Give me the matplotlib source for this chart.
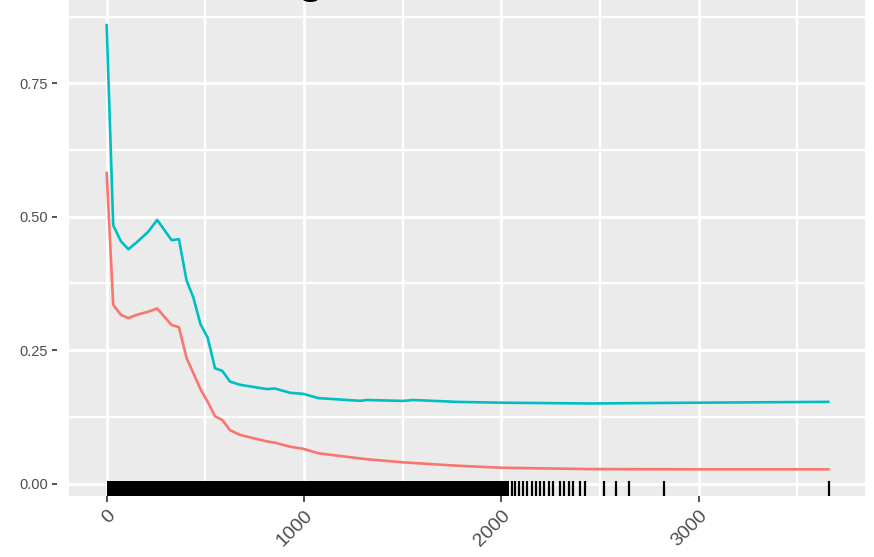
"""Partial dependence style curve for two classes, ggplot look, with a rug
of the observed x values along the bottom of the panel."""

import matplotlib
matplotlib.use("Agg")
import matplotlib.pyplot as plt
from matplotlib.ticker import MultipleLocator, FormatStrFormatter

# grid points of the curves
X_GRID = [0, 33, 72, 110, 152, 211, 256, 329, 366, 405, 439, 475, 512, 549,
          586, 625, 676, 811, 853, 929, 997, 1073, 1284, 1318, 1503, 1554,
          1774, 1993, 2450, 3007, 3657]
Y_TEAL = [0.859, 0.484, 0.454, 0.439, 0.452, 0.472, 0.494, 0.456, 0.458,
          0.380, 0.349, 0.299, 0.273, 0.216, 0.211, 0.191, 0.185, 0.177,
          0.178, 0.170, 0.168, 0.160, 0.155, 0.1565, 0.1548, 0.1565, 0.153,
          0.1515, 0.150, 0.1515, 0.153]
Y_RED = [0.582, 0.335, 0.316, 0.310, 0.316, 0.322, 0.328, 0.297, 0.293,
         0.235, 0.207, 0.177, 0.153, 0.126, 0.119, 0.100, 0.091, 0.079,
         0.0765, 0.069, 0.065, 0.0566, 0.047, 0.0455, 0.0397, 0.0385, 0.0334,
         0.0296, 0.027, 0.0266, 0.0266]

# rug: observations are so dense below ~2000 that they merge into a block
RUG_DENSE = (0, 2040)
RUG_SPARSE = [2055, 2070, 2091, 2112, 2132, 2154, 2175, 2196, 2216, 2242,
              2260, 2297, 2319, 2343, 2365, 2399, 2424, 2521, 2582, 2649,
              2825, 3660]

X_TICKS = [0, 1000, 2000, 3000]
Y_TICKS = [0.00, 0.25, 0.50, 0.75]
TITLE_TAIL = "g"

TEAL = "#00BFC4"
RED = "#F8766D"
PANEL = "#EBEBEB"
FONT = "Liberation Sans"
OUT_PNG = "out.png"


def main():
    plt.rcParams["font.family"] = [FONT, "DejaVu Sans"]

    fig = plt.figure(figsize=(8.74, 5.57), dpi=100)
    # panel runs a little past the top of the image (cropped screenshot)
    ax = fig.add_axes([69 / 874, 61 / 557, 796 / 874, 500 / 557])
    ax.set_facecolor(PANEL)

    ax.set_xlim(-191, 3843)
    ax.set_ylim(-0.0234, 0.9136)

    ax.xaxis.set_major_locator(plt.FixedLocator(X_TICKS))
    ax.yaxis.set_major_locator(plt.FixedLocator(Y_TICKS))
    ax.xaxis.set_minor_locator(MultipleLocator(500))
    ax.yaxis.set_minor_locator(MultipleLocator(0.125))
    ax.yaxis.set_major_formatter(FormatStrFormatter("%.2f"))

    ax.grid(which="major", color="white", linewidth=2.0)
    ax.grid(which="minor", color="white", linewidth=1.6)
    ax.set_axisbelow(True)

    for side in ax.spines:
        ax.spines[side].set_visible(False)
    # y ticks sit a bit away from the panel in the reference
    ax.spines["left"].set_position(("outward", 8.6))

    ax.tick_params(which="minor", length=0)
    ax.tick_params(axis="y", which="major", length=3.6, width=1.2,
                   color="#333333", pad=2.9, labelsize=10.5,
                   labelcolor="#4D4D4D")
    ax.tick_params(axis="x", which="major", length=4.3, width=1.2,
                   color="#333333", pad=4, labelsize=14,
                   labelcolor="#4D4D4D", labelrotation=45)
    for lab in ax.get_xticklabels():
        lab.set_ha("right")
        lab.set_va("top")
        lab.set_rotation_mode("anchor")

    ax.plot(X_GRID, Y_RED, color=RED, linewidth=1.9, zorder=3)
    ax.plot(X_GRID, Y_TEAL, color=TEAL, linewidth=1.9, zorder=3)

    # rug, 3% of the panel height like geom_rug
    ax.axvspan(RUG_DENSE[0], RUG_DENSE[1], ymin=0, ymax=0.03,
               color="black", linewidth=0, zorder=2)
    ax.vlines(RUG_SPARSE, 0, 0.03, transform=ax.get_xaxis_transform(),
              color="black", linewidth=1.6, zorder=2)

    # only the tail of the title survives the crop
    fig.text(297 / 874, 565.5 / 557, TITLE_TAIL, fontsize=36, color="black",
             ha="left", va="baseline", zorder=5)

    fig.savefig(OUT_PNG, dpi=100)
    print(f"saved {OUT_PNG}")


if __name__ == "__main__":
    main()
